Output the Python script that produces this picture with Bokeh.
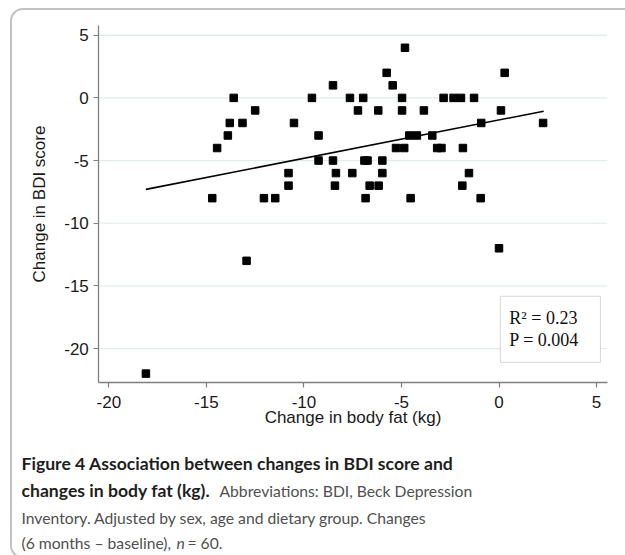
from bokeh.plotting import figure
from bokeh.models import (FixedTicker, BoxAnnotation, Label, Range1d,
                          CustomJSTickFormatter)
from bokeh.embed import file_html
from bokeh.resources import INLINE

# ---- data ----
fat_change = [-13.6, -12.5, -13.8, -13.15, -13.9, -14.45, -14.7, -12.05, -11.47, -4.82,
              -5.76, -5.45, -8.51, -9.59, -7.64, -6.96, -4.97, -2.84, -2.33, -1.95,
              -1.28, -7.23, -6.19, -4.97, -3.85, -10.51, -9.25, -4.6, -4.21, -3.42,
              -5.28, -4.86, -3.17, -2.95, -1.85, -0.91, 0.1, 0.29, 2.26, -1.54,
              -1.88, -0.94, -9.25, -8.51, -6.9, -6.74, -5.98, -10.79, -8.36, -7.52,
              -5.98, -10.79, -8.41, -6.63, -6.17, -6.84, -4.53, -12.94, -18.1, 0.0]
bdi_change = [0, -1, -2, -2, -3, -4, -8, -8, -8, 4,
              2, 1, 1, 0, 0, 0, 0, 0, 0, 0,
              0, -1, -1, -1, -1, -2, -3, -3, -3, -3,
              -4, -4, -4, -4, -4, -2, -1, 2, -2, -6,
              -7, -8, -5, -5, -5, -5, -5, -6, -6, -6,
              -6, -7, -7, -7, -7, -8, -8, -13, -22, -12]
fit_x = [-18.1, 2.29]
fit_y = [-7.3, -1.06]
x_ticks = [-20, -15, -10, -5, 0, 5]
y_ticks = [-20, -15, -10, -5, 0, 5]
stats_lines = ["R\u00b2 = 0.23", "P = 0.004"]

W, H = 625, 555
# plotting region (data limits of the axes)
X_LO, X_HI = -20.515, 5.546
Y_LO, Y_HI = -22.71, 5.777

p = figure(width=W, height=H,
           x_range=Range1d(-25.554, 6.484), y_range=Range1d(-36.514, 7.772),
           output_backend="svg", toolbar_location=None,
           min_border=0)
p.outline_line_color = None
p.background_fill_color = "white"
p.border_fill_color = "white"
p.grid.visible = False

# horizontal grid lines, limited to the plotting region
p.segment(x0=[X_LO] * len(y_ticks), x1=[X_HI] * len(y_ticks), y0=y_ticks, y1=y_ticks,
          line_color="#e1eded", line_width=1.3)

fmt = CustomJSTickFormatter(code="return tick.toString()")
for ax, ticks in ((p.xaxis[0], x_ticks), (p.yaxis[0], y_ticks)):
    ax.ticker = FixedTicker(ticks=ticks)
    ax.formatter = fmt
    ax.axis_line_color = "#808080"
    ax.axis_line_width = 1.3
    ax.major_tick_line_color = "#808080"
    ax.major_tick_line_width = 1.2
    ax.major_tick_out = 5
    ax.major_tick_in = 0
    ax.minor_tick_line_color = None
    ax.major_label_text_font = "Liberation Sans"
    ax.major_label_text_font_size = "17px"
    ax.major_label_text_color = "#1a1a1a"
    ax.axis_label_text_font = "Liberation Sans"
    ax.axis_label_text_font_size = "17px"
    ax.axis_label_text_font_style = "normal"
    ax.axis_label_text_color = "#1a1a1a"

p.xaxis.fixed_location = Y_LO
p.yaxis.fixed_location = X_LO
p.xaxis.bounds = (X_LO, X_HI)
p.yaxis.bounds = (Y_LO, Y_HI)
p.xaxis.axis_label = "Change in body fat (kg)"
p.yaxis.axis_label = "Change in BDI score"
p.xaxis.major_label_standoff = 8
p.xaxis.axis_label_standoff = -3
p.yaxis.major_label_standoff = 5
p.yaxis.axis_label_standoff = 12

p.line(fit_x, fit_y, line_color="black", line_width=1.6)
p.scatter(fat_change, bdi_change, marker="square", size=7.5,
          fill_color="black", line_color="black")

# statistics box
p.add_layout(BoxAnnotation(left=0.07, right=5.2, top=-15.83, bottom=-21.1,
                           fill_color="white", fill_alpha=1.0,
                           line_color="#7a7a7a", line_width=1))
for i, t in enumerate(stats_lines):
    p.add_layout(Label(x=0.53, y=-17.58 - i * 1.76, text=t,
                       text_font="Liberation Serif", text_font_size="18px",
                       text_color="#111111", text_baseline="alphabetic"))

# caption (figure legend) below the plot
def cap(text, x_px, base_px, bold=False, italic=False, color="#505050", size="15.7px"):
    style = "bold" if bold else ("italic" if italic else "normal")
    p.add_layout(Label(x=x_px, y=H - base_px, text=text,
                       x_units="screen", y_units="screen",
                       text_font="Lato", text_font_size=size,
                       text_font_style=style, text_color=color,
                       text_baseline="alphabetic"))

cap("Figure 4 Association between changes in BDI score and", 21, 463,
    bold=True, color="#1e1e1e", size="17.6px")
cap("changes in body fat (kg).", 21, 490, bold=True, color="#1e1e1e", size="17.6px")
cap("Abbreviations: BDI, Beck Depression", 219, 490)
cap("Inventory. Adjusted by sex, age and dietary group. Changes", 21, 517)
cap("(6 months \u2013 baseline),", 21, 542)
cap("n", 176, 542, italic=True)
cap("= 60.", 187, 542)

# rounded frame around the whole figure
p.add_layout(BoxAnnotation(left=10.5, right=W + 50, top=H - 8.5, bottom=-2,
                           left_units="screen", right_units="screen",
                           top_units="screen", bottom_units="screen",
                           fill_alpha=0, line_color="#333333", line_width=2,
                           border_radius=12))

open("out.html", "w").write(file_html(p, INLINE))
